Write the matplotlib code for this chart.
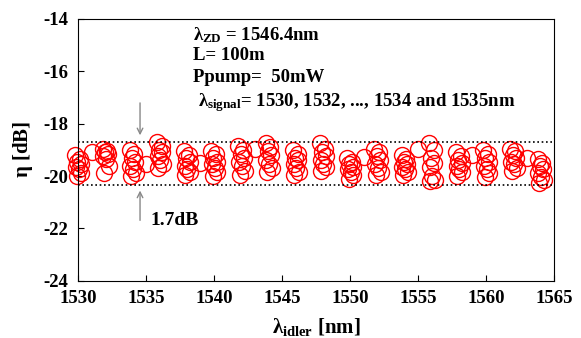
import numpy as np
import matplotlib
matplotlib.use('Agg')
import matplotlib.pyplot as plt

plt.rcParams['font.family'] = ['Liberation Serif', 'DejaVu Serif']
plt.rcParams['font.weight'] = 'bold'
plt.rcParams['axes.unicode_minus'] = False
plt.rcParams['mathtext.fontset'] = 'custom'
plt.rcParams['mathtext.rm'] = 'Liberation Serif:bold'
plt.rcParams['mathtext.it'] = 'Liberation Serif:bold'
plt.rcParams['mathtext.bf'] = 'Liberation Serif:bold'

# clusters of idler wavelengths (nm) and measured efficiency (dB)
cluster_x = [1530, 1532, 1534, 1536, 1538, 1540, 1542, 1544, 1546,
             1548, 1550, 1552, 1554, 1556, 1558, 1560, 1562, 1564]
# small wavelength deviation of each point inside a cluster (nm)
cluster_dx = [-0.2, 0.15, -0.05, 0.2, -0.15, 0.05, 0.25, -0.1]
cluster_eta = [
    [-19.2, -19.35, -19.45, -19.55, -19.65, -19.75, -19.9, -20.0],
    [-18.95, -19.05, -19.1, -19.15, -19.25, -19.35, -19.6, -19.9],
    [-19.0, -19.15, -19.3, -19.45, -19.6, -19.75, -19.9, -20.0],
    [-18.7, -18.85, -19.0, -19.1, -19.25, -19.4, -19.55, -19.7],
    [-19.05, -19.2, -19.3, -19.45, -19.6, -19.75, -19.85, -19.95],
    [-19.05, -19.15, -19.3, -19.45, -19.55, -19.7, -19.85, -20.0],
    [-18.85, -19.0, -19.15, -19.3, -19.45, -19.6, -19.8, -19.95],
    [-18.75, -18.9, -19.05, -19.2, -19.4, -19.55, -19.7, -19.85],
    [-19.0, -19.15, -19.3, -19.4, -19.55, -19.7, -19.85, -19.95],
    [-18.75, -18.95, -19.1, -19.25, -19.4, -19.55, -19.65, -19.8],
    [-19.3, -19.45, -19.55, -19.65, -19.75, -19.85, -19.95, -20.1],
    [-18.95, -19.1, -19.25, -19.4, -19.55, -19.7, -19.85, -19.95],
    [-19.2, -19.35, -19.45, -19.55, -19.65, -19.75, -19.85, -19.95],
    [-18.75, -19.0, -19.3, -19.5, -19.65, -20.0, -20.15, -20.2],
    [-19.1, -19.25, -19.4, -19.5, -19.6, -19.75, -19.85, -20.0],
    [-19.0, -19.15, -19.3, -19.45, -19.6, -19.75, -19.9, -20.05],
    [-18.95, -19.05, -19.2, -19.3, -19.45, -19.55, -19.7, -19.8],
    [-19.35, -19.5, -19.6, -19.75, -19.9, -20.05, -20.15, -20.25],
]
# single points in between the clusters
odd_x = [1531, 1535, 1539, 1543, 1551, 1555, 1559, 1563]
odd_eta = [-19.1, -19.55, -19.5, -18.95, -19.27, -18.95, -19.2, -19.3]

band_top = -18.7
band_bottom = -20.33

fig = plt.figure(figsize=(5.81, 3.38), dpi=100)
ax = fig.add_axes([0.1343, 0.1695, 0.8192, 0.7743])

for x, ys in zip(cluster_x, cluster_eta):
    xs = [x + d for d in cluster_dx]
    ax.plot(xs, ys, 'o', ms=11.5, mfc='none', mec='red', mew=1.0, clip_on=False)
ax.plot(odd_x, odd_eta, 'o', ms=11.5, mfc='none', mec='red', mew=1.0)

ax.axhline(band_top, color='black', ls=(0, (1, 1.6)), lw=1.2)
ax.axhline(band_bottom, color='black', ls=(0, (1, 1.6)), lw=1.2)

ax.annotate('', xy=(1534.56, -18.55), xytext=(1534.56, -17.1),
            arrowprops=dict(arrowstyle='->', color='#888888', lw=1))
ax.annotate('', xy=(1534.56, -20.45), xytext=(1534.56, -21.8),
            arrowprops=dict(arrowstyle='->', color='#888888', lw=1))
ax.text(1535.3, -21.7, '1.7dB', fontsize=14, fontweight='bold', va='center')

ax.text(1538.45, -14.61, r'$\lambda_{\mathrm{ZD}}$ = 1546.4nm', fontsize=13.5,
        fontweight='bold', va='center')
ax.text(1538.45, -15.38, 'L= 100m', fontsize=13.5, fontweight='bold', va='center')
ax.text(1538.45, -16.22, 'Ppump=  50mW', fontsize=13.5, fontweight='bold', va='center')
ax.text(1538.8, -17.18, r'$\lambda_{\mathrm{signal}}$= 1530, 1532, ..., 1534 and 1535nm',
        fontsize=13.5, fontweight='bold', va='center')

ax.set_xlim(1530, 1565)
ax.set_ylim(-24, -14)
ax.set_xticks(np.arange(1530, 1566, 5))
ax.set_yticks(np.arange(-24, -13, 2))
ax.tick_params(direction='in', length=4, labelsize=13.5, pad=7, top=False, right=False)
for lab in ax.get_xticklabels() + ax.get_yticklabels():
    lab.set_fontweight('bold')
ax.set_xlabel(r'$\lambda_{\mathrm{idler}}$ [nm]', fontsize=15, fontweight='bold', labelpad=6)
ax.set_ylabel(r'$\eta$ [dB]', fontsize=15, fontweight='bold', labelpad=6)

fig.savefig('out.png', dpi=100)
